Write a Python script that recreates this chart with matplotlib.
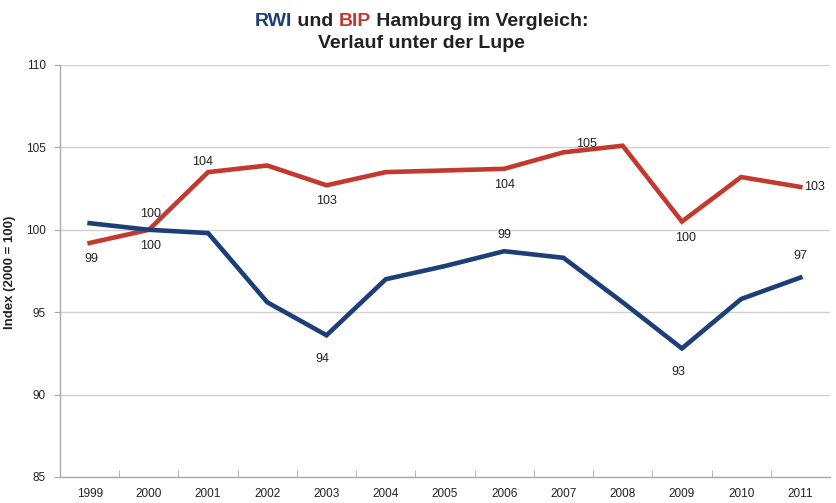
import matplotlib
matplotlib.use("Agg")
import matplotlib.pyplot as plt

plt.rcParams["font.family"] = ["Liberation Sans", "DejaVu Sans"]

years = ["1999", "2000", "2001", "2002", "2003", "2004", "2005",
         "2006", "2007", "2008", "2009", "2010", "2011"]
rwi = [100.4, 100.0, 99.8, 95.6, 93.6, 97.0, 97.8, 98.7, 98.3, 95.6, 92.8, 95.8, 97.1]
bip = [99.2, 100.0, 103.5, 103.9, 102.7, 103.5, 103.6, 103.7, 104.7, 105.1, 100.5, 103.2, 102.6]

# data labels: (index, text, dx_px, dy_px)
rwi_labels = [(1, "100", 2, -16), (4, "94", -4, -24), (7, "99", 0, 16), (10, "93", -4, -24), (12, "97", 0, 22)]
bip_labels = [(0, "99", 2, -16), (1, "100", 2, 16), (2, "104", -6, 10), (4, "103", 0, -16),
              (7, "104", 0, -16), (9, "105", -36, 2), (10, "100", 4, -16), (12, "103", 14, 0)]

BLUE = "#1c3f78"
RED = "#c4392f"
TXT = "#222222"

fig = plt.figure(figsize=(8.37, 5.03), dpi=100)
ax = fig.add_axes([0.0717, 0.0517, 0.9199, 0.8191])

x = list(range(len(years)))
ax.plot(x, bip, color=RED, lw=3.3, solid_joinstyle="miter", zorder=3)
ax.plot(x, rwi, color=BLUE, lw=3.3, solid_joinstyle="miter", zorder=3)

for i, t, dx, dy in rwi_labels:
    ax.annotate(t, (x[i], rwi[i]), xytext=(dx * 0.72, dy * 0.72), textcoords="offset points",
                ha="center", va="center", fontsize=9, color=TXT)
for i, t, dx, dy in bip_labels:
    ax.annotate(t, (x[i], bip[i]), xytext=(dx * 0.72, dy * 0.72), textcoords="offset points",
                ha="center", va="center", fontsize=9, color=TXT)

ax.set_xlim(-0.5, len(years) - 0.5)
ax.set_ylim(85, 110)
ax.set_yticks([85, 90, 95, 100, 105, 110])
ax.set_xticks(x)
ax.set_xticklabels(years)
ax.set_xticks([i + 0.5 for i in x[:-1]], minor=True)
ax.tick_params(axis="x", which="major", length=0, labelsize=8.5, pad=8, colors=TXT)
ax.tick_params(axis="x", which="minor", length=5, color="#aaaaaa", direction="in")
ax.tick_params(axis="y", length=4, labelsize=8.5, pad=6, labelcolor=TXT, color="#aaaaaa")
ax.grid(axis="y", color="#d0d0d0", lw=1.0)
ax.set_axisbelow(True)
for s in ["top", "right"]:
    ax.spines[s].set_visible(False)
for s in ["left", "bottom"]:
    ax.spines[s].set_color("#aaaaaa")
    ax.spines[s].set_linewidth(1.0)

ax.set_ylabel("Index (2000 = 100)", fontsize=9.5, fontweight="bold", color=TXT)
ax.yaxis.set_label_coords(-0.057, 0.497)

# Title with coloured parts
FS = 14
parts = [("RWI", BLUE), (" und ", TXT), ("BIP", RED), (" Hamburg im Vergleich:", TXT)]
fig.canvas.draw()
r = fig.canvas.get_renderer()
cum = []
full = ""
for s, c in parts:
    if full:
        t = fig.text(0, 0, full + "|", fontsize=FS, fontweight="bold")
        w1 = t.get_window_extent(renderer=r).width
        t.remove()
        t = fig.text(0, 0, "|", fontsize=FS, fontweight="bold")
        w2 = t.get_window_extent(renderer=r).width
        t.remove()
        cum.append(w1 - w2)
    else:
        cum.append(0)
    full += s
t = fig.text(0, 0, full, fontsize=FS, fontweight="bold")
total = t.get_window_extent(renderer=r).width
t.remove()
cx = 421
x0 = cx - total / 2
for (s, c), off in zip(parts, cum):
    fig.text((x0 + off) / 837, (503 - 21) / 503, s, fontsize=FS, fontweight="bold", color=c,
             ha="left", va="center")
fig.text(cx / 837, (503 - 43) / 503, "Verlauf unter der Lupe", fontsize=FS, fontweight="bold",
         color=TXT, ha="center", va="center")

fig.savefig("out.png", dpi=100)
